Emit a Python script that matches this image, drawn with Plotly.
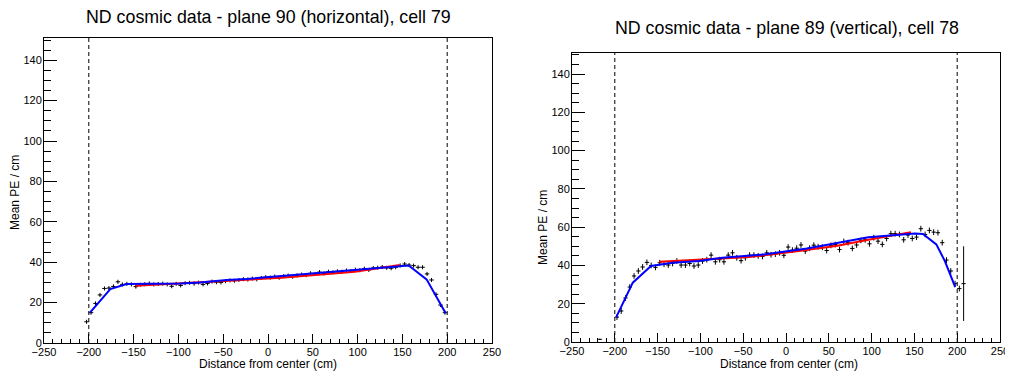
import plotly.graph_objects as go

# ---------------- data ----------------
boundaries = [-200, 200]
y_max = 151

left_x = [-202.5 + 5 * i for i in range(81)]
left_y = [10.5, 15.0, 19.6, 23.8, 27.0, 27.2, 28.0, 30.3, 29.0, 29.3,
          29.0, 27.9, 28.8, 29.1, 29.5, 29.0, 29.2, 29.4, 29.0, 28.1,
          29.3, 28.5, 29.6, 29.8, 29.4, 29.9, 29.0, 29.5, 30.4, 30.1,
          30.0, 30.6, 31.0, 30.8, 31.2, 31.6, 31.4, 31.9, 31.5, 32.2,
          32.6, 32.4, 32.9, 32.3, 33.1, 33.4, 32.8, 33.5, 33.9, 33.6,
          34.5, 34.2, 35.1, 34.4, 35.3, 35.0, 35.5, 35.3, 35.9, 35.6,
          36.3, 36.0, 36.8, 36.2, 37.1, 37.3, 37.6, 37.2, 37.0, 37.5,
          38.4, 39.1, 38.6, 38.3, 37.5, 37.5, 34.2, 31.2, 24.1, 18.8,
          15.0]
left_err = [1.0] * len(left_x)

left_red_x = [-148, -59, 15, 97, 147]
left_red_y = [28.4, 30.4, 32.3, 35.3, 38.6]
left_blue_x = [-198.7, -176, -157.7, -150, -98, -76, -46, -24, 0, 50, 100, 150, 157, 177, 198.3]
left_blue_y = [15.0, 26.7, 29.2, 29.2, 29.5, 30.0, 31.2, 31.7, 32.6, 34.3, 36.4, 38.3, 38.4, 31.5, 14.7]

right_x = [-217.5] + [-197.5 + 5 * i for i in range(82)]
right_y = [1.4,
           13.0, 16.2, 23.0, 28.7, 34.5, 37.1, 39.2, 41.6, 40.0, 39.0,
           41.4, 40.6, 40.2, 41.0, 42.3, 40.2, 40.2, 41.0, 39.7, 40.2,
           42.3, 43.0, 45.4, 41.9, 43.0, 41.9, 45.4, 46.6, 44.0, 42.5,
           44.0, 45.4, 45.4, 45.0, 44.7, 46.6, 45.6, 45.9, 46.6, 45.3,
           49.6, 48.0, 49.0, 50.7, 47.5, 49.0, 50.6, 49.8, 49.5, 47.8,
           50.5, 50.9, 48.3, 52.5, 51.9, 48.9, 50.7, 53.1, 53.4, 51.3,
           54.5, 52.7, 51.0, 54.1, 56.6, 56.6, 56.2, 53.4, 55.9, 54.1,
           54.8, 59.2, 56.2, 58.3, 57.4, 57.1, 51.9, 42.8, 37.1, 30.5,
           27.9, 30.5]
right_err = [0.3] + [1.5] * 81 + [19.5]

right_red_x = [-148, -90, -43, 15, 60, 98, 146]
right_red_y = [41.9, 43.2, 44.4, 47.5, 50.3, 53.6, 57.4]
right_blue_x = [-198.3, -179, -157.7, -132.4, -101.5, -74.4, -24, 24.4, 96.2, 150.5, 160, 175.6, 185.6, 197.7]
right_blue_y = [13.0, 31.0, 39.7, 41.4, 42.3, 44.0, 45.8, 48.9, 54.7, 56.7, 56.4, 51.0, 42.3, 28.7]

titles = ["ND cosmic data - plane 90 (horizontal), cell 79",
          "ND cosmic data - plane 89 (vertical), cell 78"]
x_title = "Distance from center (cm)"
y_title = "Mean PE / cm"

# ---------------- figure ----------------
W, H = 1013, 376
OFF = 8  # default page body margin
FW, FH = W - OFF, H - OFF
FONT = "Liberation Sans, Arial, Helvetica, sans-serif"

fig = go.Figure()

panels = [
    dict(xa="x", ya="y", px=left_x, py=left_y, pe=left_err,
         rx=left_red_x, ry=left_red_y, bx=left_blue_x, by=left_blue_y),
    dict(xa="x2", ya="y2", px=right_x, py=right_y, pe=right_err,
         rx=right_red_x, ry=right_red_y, bx=right_blue_x, by=right_blue_y),
]

for p in panels:
    dx, dy = [], []
    for b in boundaries:
        dx += [b, b, None]
        dy += [0, y_max, None]
    fig.add_trace(go.Scatter(x=dx, y=dy, mode="lines", xaxis=p["xa"], yaxis=p["ya"],
                             line=dict(color="black", width=1, dash="4px,3px"),
                             showlegend=False, hoverinfo="skip"))
    fig.add_trace(go.Scatter(x=p["px"], y=p["py"], mode="markers", xaxis=p["xa"], yaxis=p["ya"],
                             marker=dict(size=1, color="black"),
                             error_x=dict(type="constant", value=2.5, thickness=1, width=0, color="black"),
                             error_y=dict(type="data", array=p["pe"], thickness=1, width=0, color="black"),
                             showlegend=False))
    fig.add_trace(go.Scatter(x=p["rx"], y=p["ry"], mode="lines", xaxis=p["xa"], yaxis=p["ya"],
                             line=dict(color="#ff0000", width=2), showlegend=False))
    fig.add_trace(go.Scatter(x=p["bx"], y=p["by"], mode="lines", xaxis=p["xa"], yaxis=p["ya"],
                             line=dict(color="#0000ff", width=2), showlegend=False))

def px2paper_x(v):
    return (v - OFF) / FW

def px2paper_y(v):
    return 1 - (v - OFF) / FH

def xaxis_cfg(domain, ticklen):
    return dict(domain=domain, range=[-250, 250], dtick=50, tick0=0,
                ticks="inside", ticklen=ticklen, tickwidth=1, tickcolor="black",
                minor=dict(dtick=10, ticks="inside", ticklen=ticklen / 2, tickcolor="black", tickwidth=1),
                showline=True, linecolor="black", linewidth=1, mirror=True,
                showgrid=False, zeroline=False, automargin=False,
                ticklabelstandoff=-1,
                tickfont=dict(family=FONT, size=11, color="black"))

def yaxis_cfg(domain, anchor, ticklen):
    return dict(domain=domain, range=[0, y_max], dtick=20, tick0=0, anchor=anchor,
                ticks="inside", ticklen=ticklen, tickwidth=1, tickcolor="black",
                minor=dict(dtick=5, ticks="inside", ticklen=ticklen / 2, tickcolor="black", tickwidth=1),
                showline=True, linecolor="black", linewidth=1, mirror=True,
                showgrid=False, zeroline=False, automargin=False,
                ticklabelstandoff=-1,
                tickfont=dict(family=FONT, size=11, color="black"))

fig.update_layout(
    width=FW, height=FH, autosize=False,
    margin=dict(l=0, r=0, t=0, b=0),
    paper_bgcolor="white", plot_bgcolor="white",
    xaxis=dict(**xaxis_cfg([px2paper_x(44), px2paper_x(492)], 9), anchor="y"),
    yaxis=yaxis_cfg([px2paper_y(343), px2paper_y(38)], "x", 13),
    xaxis2=dict(**xaxis_cfg([px2paper_x(572), px2paper_x(1000)], 9), anchor="y2"),
    yaxis2=yaxis_cfg([px2paper_y(342), px2paper_y(53)], "x2", 13),
)

ann = []
ann.append(dict(text=titles[0], x=px2paper_x(268), y=px2paper_y(17)))
ann.append(dict(text=titles[1], x=px2paper_x(787), y=px2paper_y(28)))
for a in ann:
    a.update(xref="paper", yref="paper", showarrow=False, xanchor="center", yanchor="middle",
             font=dict(family=FONT, size=17.8, color="black"))
axis_ann = [
    dict(text=x_title, x=px2paper_x(268), y=px2paper_y(364)),
    dict(text=x_title, x=px2paper_x(789), y=px2paper_y(364)),
    dict(text=y_title, x=px2paper_x(15), y=px2paper_y(193), textangle=-90),
    dict(text=y_title, x=px2paper_x(543), y=px2paper_y(228), textangle=-90),
]
for a in axis_ann:
    a.update(xref="paper", yref="paper", showarrow=False, xanchor="center", yanchor="middle",
             font=dict(family=FONT, size=12, color="black"))
fig.update_layout(annotations=ann + axis_ann)

fig.write_html("out.html")
